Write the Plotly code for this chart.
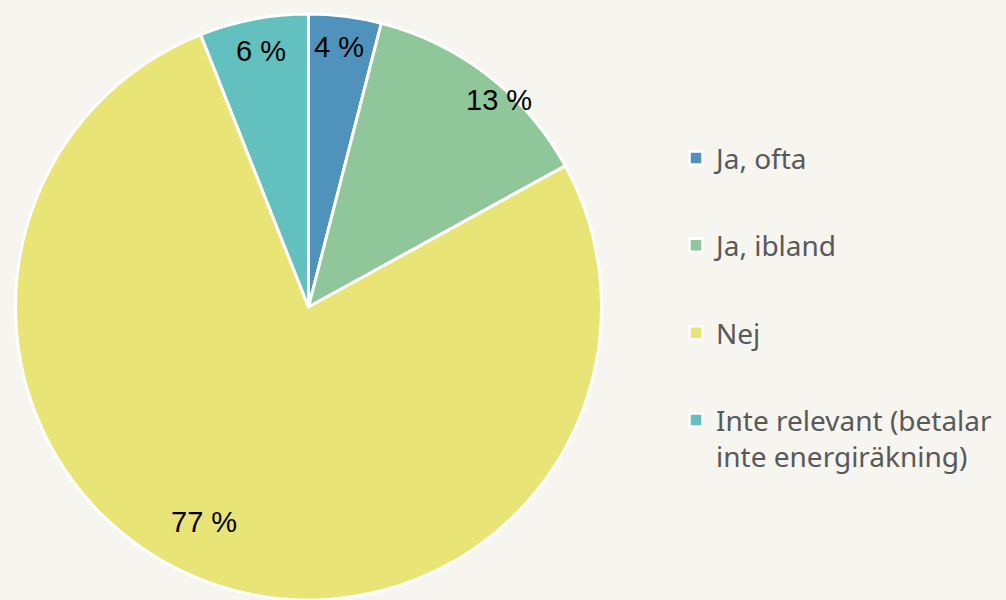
import math
import plotly.graph_objects as go

# ---- data ----
categories = ["Ja, ofta", "Ja, ibland", "Nej", "Inte relevant (betalar<br>inte energiräkning)"]
values = [4, 13, 77, 6]
colors = ["#4f93bd", "#8fc79b", "#e8e476", "#62c0be"]

# ---- layout / style ----
W, H = 1006, 600
cx, cy, R = 308.5, 307, 293          # pie centre and radius in pixels
bg = "#f6f5ef"
# label placement: fraction of radius and angular nudge from slice mid-angle (deg)
label_r = [0.89, 0.955, 0.81, 0.885]
label_turn = [-0.6, 4.7, 6.1, 0.2]

fig = go.Figure()

fig.add_trace(go.Pie(
    labels=categories,
    values=values,
    sort=False,
    direction="clockwise",
    rotation=0,
    marker=dict(colors=colors, line=dict(color="white", width=3)),
    textinfo="none",
    hoverinfo="label+percent",
    showlegend=False,
    domain=dict(x=[(cx - R) / W, (cx + R) / W], y=[1 - (cy + R) / H, 1 - (cy - R) / H]),
))

# legend entries (one group each so that spacing can be controlled)
for i, (cat, col) in enumerate(zip(categories, colors)):
    fig.add_trace(go.Scatter(
        x=[None], y=[None], mode="markers", name=cat,
        legendgroup=f"g{i}",
        marker=dict(symbol="square", size=13, color=col, line=dict(color="white", width=2.5)),
        hoverinfo="skip",
    ))

# data labels
total = sum(values)
annotations = []
cum = 0.0
R_out = R + 1.5
for v, fr, turn in zip(values, label_r, label_turn):
    mid = (cum + v / 2) / total * 360.0
    cum += v
    th = math.radians(mid + turn)
    px = cx + fr * R_out * math.sin(th)
    py = cy - fr * R_out * math.cos(th)
    annotations.append(dict(
        x=px / W, y=1 - py / H, xref="paper", yref="paper",
        text=f"{v} %", showarrow=False, xanchor="center", yanchor="middle",
        font=dict(family="Liberation Sans, Arial, sans-serif", size=29, color="#000000"),
    ))

fig.update_layout(
    width=W, height=H,
    margin=dict(l=0, r=0, t=0, b=0),
    paper_bgcolor=bg, plot_bgcolor=bg,
    xaxis=dict(visible=False), yaxis=dict(visible=False),
    annotations=annotations,
    legend=dict(
        x=0.672, xanchor="left", y=0.778, yanchor="top",
        tracegroupgap=48, valign="top",
        bgcolor="rgba(0,0,0,0)",
        font=dict(family="Noto Sans, Open Sans, sans-serif", size=28, color="#595959"),
    ),
    showlegend=True,
)

fig.write_html(
    "out.html",
    config={"displayModeBar": False},
    post_script="document.body.style.margin='0';document.body.style.background='#f6f5ef';",
)
